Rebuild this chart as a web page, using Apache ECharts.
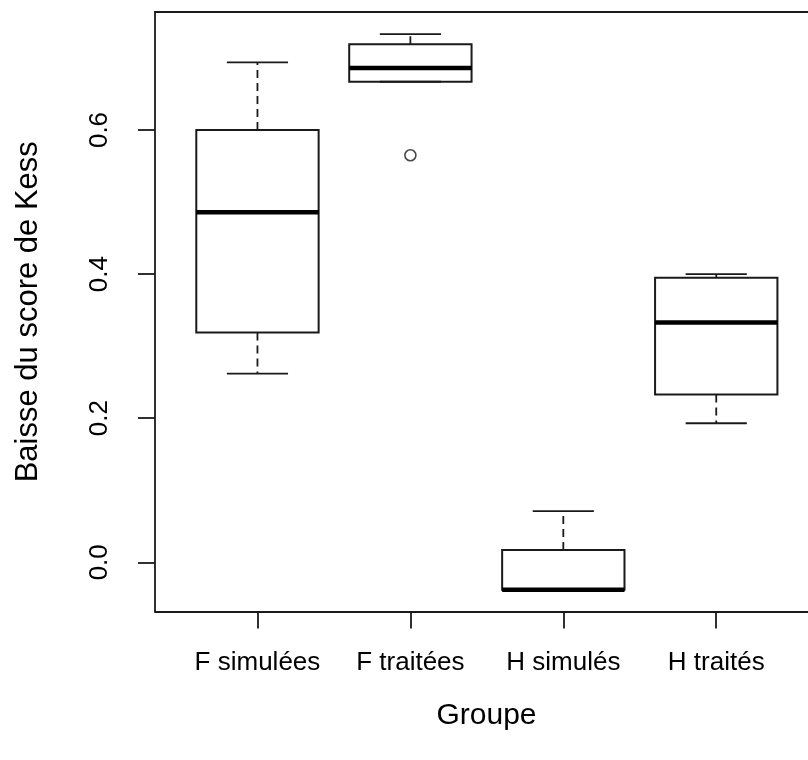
<!DOCTYPE html>
<html><head><meta charset="utf-8">
<script src="https://cdn.jsdelivr.net/npm/echarts@6/dist/echarts.min.js"></script>
<style>html,body{margin:0;padding:0;background:#fff}#c{width:808px;height:760px}</style>
</head><body><div id="c"></div>
<script>
// ---- data ----
const categories = ['F simulées', 'F traitées', 'H simulés', 'H traités'];
const mins    = [0.262, 0.667, -0.038, 0.193];
const q1s     = [0.319, 0.667, -0.038, 0.233];
const medians = [0.486, 0.686, -0.038, 0.333];
const q3s     = [0.600, 0.719,  0.017, 0.395];
const maxs    = [0.694, 0.733,  0.071, 0.400];
const outlierGroups = [2];
const outlierValues = [0.565];
const xTickValues = [1, 2, 3, 4];
const yTickValues = [0, 0.2, 0.4, 0.6];
const yTickLabels = ['0.0', '0.2', '0.4', '0.6'];
const xTitle = 'Groupe';
const yTitle = 'Baisse du score de Kess';

const INK = '#1a1a1a';
const FONT = 'Liberation Sans, Arial, sans-serif';

const boxData = categories.map((c, i) => [i + 1, mins[i], q1s[i], medians[i], q3s[i], maxs[i]]);
const outData = outlierGroups.map((g, i) => [g, outlierValues[i]]);

const X_MIN = 0.33, X_MAX = 4.60;   // plot region runs past the right edge of the picture
const chart = echarts.init(document.getElementById('c'), null, {renderer: 'canvas'});
chart.setOption({
  animation: false,
  backgroundColor: '#fff',
  grid: {left: 155, right: 0, top: 12, bottom: 148.5},
  xAxis: [{
    type: 'value', min: X_MIN, max: X_MAX, position: 'bottom',
    splitLine: {show: false},
    axisLine: {show: true, onZero: false, lineStyle: {color: INK, width: 1.8}},
    axisTick: {show: true, customValues: xTickValues, length: 17, lineStyle: {color: INK, width: 1.8}},
    axisLabel: {customValues: xTickValues, formatter: v => categories[Math.round(v) - 1] || '', margin: 38,
      fontSize: 26, color: '#000', fontFamily: FONT},
    name: xTitle, nameLocation: 'middle', nameGap: 89,
    nameTextStyle: {fontSize: 30, color: '#000', fontFamily: FONT, padding: [0, 0, 0, 10]}
  }, {
    type: 'value', min: X_MIN, max: X_MAX, position: 'top',
    splitLine: {show: false},
    axisLine: {show: true, onZero: false, lineStyle: {color: INK, width: 1.8}},
    axisTick: {show: false}, axisLabel: {show: false}
  }],
  yAxis: {
    type: 'value', min: -0.0683, max: 0.7638,
    splitLine: {show: false},
    axisLine: {show: true, onZero: false, lineStyle: {color: INK, width: 1.8}},
    axisTick: {show: true, customValues: yTickValues, length: 17, lineStyle: {color: INK, width: 1.8}},
    axisLabel: {customValues: yTickValues, rotate: 90, margin: 42,
      formatter: v => { const k = yTickValues.findIndex(t => Math.abs(t - v) < 1e-9); return k >= 0 ? yTickLabels[k] : ''; },
      fontSize: 26, color: '#000', fontFamily: FONT},
    name: yTitle, nameLocation: 'middle', nameGap: 111, nameRotate: 90,
    nameTextStyle: {fontSize: 31, color: '#000', fontFamily: FONT}
  },
  series: [
    {
      type: 'custom',
      data: boxData,
      xAxisIndex: 0,
      encode: {x: 0, y: [1, 2, 3, 4, 5]},
      renderItem: function (params, api) {
        const x = api.value(0), mn = api.value(1), a = api.value(2), md = api.value(3), b = api.value(4), mx = api.value(5);
        const c = (xx, yy) => api.coord([xx, yy]);
        const half = 0.4, st = 0.2;
        const ch = [];
        const ln = (p1, p2, style) => ch.push({type: 'line', shape: {x1: p1[0], y1: p1[1], x2: p2[0], y2: p2[1]}, style: style});
        const whisk = {stroke: INK, lineWidth: 1.8, lineDash: [8, 5]};
        const solid = {stroke: INK, lineWidth: 1.8};
        if (mx > b) ln(c(x, b), c(x, mx), whisk);
        if (mn < a) ln(c(x, a), c(x, mn), whisk);
        ln(c(x - st, mx), c(x + st, mx), solid);
        ln(c(x - st, mn), c(x + st, mn), solid);
        const tl = c(x - half, b), br = c(x + half, a);
        ch.push({type: 'rect', shape: {x: tl[0], y: tl[1], width: br[0] - tl[0], height: br[1] - tl[1]},
          style: {fill: 'transparent', stroke: INK, lineWidth: 2}});
        ln(c(x - half, md), c(x + half, md), {stroke: '#000', lineWidth: 4.5, lineCap: 'butt'});
        return {type: 'group', children: ch};
      },
      z: 5
    },
    {
      type: 'scatter',
      data: outData,
      xAxisIndex: 0,
      symbol: 'circle', symbolSize: 11,
      itemStyle: {color: '#fff', borderColor: INK, borderWidth: 1.6},
      z: 6
    }
  ]
});
</script>
</body></html>
